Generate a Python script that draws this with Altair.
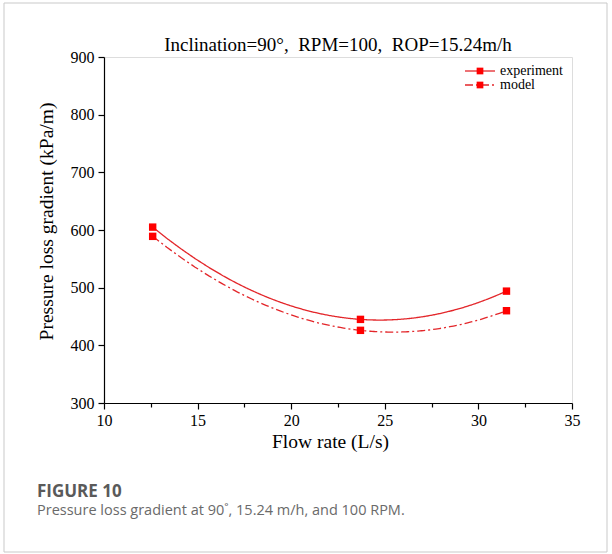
import altair as alt
import pandas as pd

# ---- data ----
flow_rate = [12.6, 23.7, 31.5]
experiment = [605, 445, 494]
model = [589, 426, 460]
series_names = ["experiment", "model"]

x_ticks = [10, 12.5, 15, 17.5, 20, 22.5, 25, 27.5, 30, 32.5, 35]
y_ticks = [300, 350, 400, 450, 500, 550, 600, 650, 700, 750, 800, 850, 900]

NB = "\u00a0"
title_text = f"Inclination=90°,{NB}{NB}RPM=100,{NB}{NB}ROP=15.24m/h"
fig_label = "FIGURE 10"
fig_caption = "Pressure loss gradient at 90˚, 15.24 m/h, and 100 RPM."

df = pd.DataFrame({
    "flow": flow_rate * 2,
    "value": experiment + model,
    "series": [series_names[0]] * 3 + [series_names[1]] * 3,
})

SERIF = "Liberation Serif"
SANS = "Open Sans"
RED_LINE = "#e3262a"
RED_MARK = "#ff0000"
DASHDOT = [8, 3, 2, 3]

xscale = alt.Scale(domain=[10, 35], nice=False, zero=False)
yscale = alt.Scale(domain=[300, 900], nice=False, zero=False)

x_axis = alt.Axis(
    values=x_ticks, title="Flow rate (L/s)", grid=False, labelFlush=False,
    labelExpr="datum.value % 5 == 0 ? datum.label : ''",
    tickSize={"condition": {"test": "datum.value % 5 == 0", "value": 6}, "value": 4},
    labelFont=SERIF, labelFontSize=16, labelColor="black", labelPadding=3,
    titleFont=SERIF, titleFontSize=19.5, titleFontWeight="normal", titleColor="black",
    titlePadding=4, titleX=226, domainColor="black", domainWidth=1.2,
    tickColor="black", tickWidth=1.2,
)
y_axis = alt.Axis(
    values=y_ticks, title="Pressure loss gradient (kPa/m)", grid=False, labelFlush=False,
    labelExpr="datum.value % 100 == 0 ? datum.label : ''",
    tickSize={"condition": {"test": "datum.value % 100 == 0", "value": 6}, "value": 4},
    labelFont=SERIF, labelFontSize=16, labelColor="black", labelPadding=4,
    titleFont=SERIF, titleFontSize=19.5, titleFontWeight="normal", titleColor="black",
    titlePadding=14, titleY=164, domainColor="black", domainWidth=1.2,
    tickColor="black", tickWidth=1.2,
)

base = alt.Chart(df)

# smooth curve through the three points of each series (quadratic fit done by Vega)
lines = base.transform_regression(
    "flow", "value", method="poly", order=2, groupby=["series"]
).mark_line(strokeWidth=1.3, color=RED_LINE).encode(
    x=alt.X("flow:Q", scale=xscale, axis=x_axis),
    y=alt.Y("value:Q", scale=yscale, axis=y_axis),
    strokeDash=alt.StrokeDash(
        "series:N",
        scale=alt.Scale(domain=series_names, range=[[1, 0], DASHDOT]),
        legend=None,
    ),
    detail="series:N",
)

points = base.mark_square(size=55, color=RED_MARK, opacity=1, filled=True).encode(
    x=alt.X("flow:Q", scale=xscale),
    y=alt.Y("value:Q", scale=yscale),
)

# ---- legend (manual, inside the plot) ----
leg = pd.DataFrame({"series": series_names})


def legend_item(i, y, dash):
    d = leg.iloc[[i]]
    rule_kw = {"color": RED_LINE, "strokeWidth": 1.3}
    if dash:
        rule_kw["strokeDash"] = dash
    r = alt.Chart(d).mark_rule(**rule_kw).encode(
        x=alt.value(361), x2=alt.value(391), y=alt.value(y)
    )
    p = alt.Chart(d).mark_square(size=45, color=RED_MARK, opacity=1).encode(
        x=alt.value(376), y=alt.value(y)
    )
    t = alt.Chart(d).mark_text(align="left", baseline="middle", font=SERIF, fontSize=14,
                               color="black").encode(
        x=alt.value(396), y=alt.value(y), text="series:N"
    )
    return [r, p, t]


legend_layers = legend_item(0, 14, None) + legend_item(1, 28, DASHDOT)

# ---- title, caption and outer border ----
cap = pd.DataFrame({"t": [fig_label], "c": [fig_caption], "title": [title_text]})
border = alt.Chart(cap).mark_rect(fill=None, stroke="#c9c9c9", strokeWidth=1).encode(
    x=alt.value(-100), x2=alt.value(503), y=alt.value(-54), y2=alt.value(495)
)
title_mark = alt.Chart(cap).mark_text(align="center", baseline="alphabetic", font=SERIF,
                                      fontSize=19, color="black").encode(
    x=alt.value(234), y=alt.value(-6), text="title:N"
)
fig_lab = alt.Chart(cap).mark_text(align="left", baseline="alphabetic", font=SANS, fontSize=17,
                                   fontWeight="bold", color="#5a5a5a").encode(
    x=alt.value(-67), y=alt.value(440), text="t:N"
)
fig_cap = alt.Chart(cap).mark_text(align="left", baseline="alphabetic", font=SANS, fontSize=14.5,
                                   color="#6a6a6a").encode(
    x=alt.value(-67), y=alt.value(458), text="c:N"
)

chart = alt.layer(
    border, lines, points, *legend_layers, title_mark, fig_lab, fig_cap
).properties(
    width=468, height=346,
    autosize=alt.AutoSizeParams(type="none"),
    padding={"left": 104, "top": 57, "right": 40, "bottom": 151},
).configure_view(stroke="black", strokeWidth=1.2).configure(background="white")

chart.save("out.html", embed_options={"renderer": "svg", "actions": False})
